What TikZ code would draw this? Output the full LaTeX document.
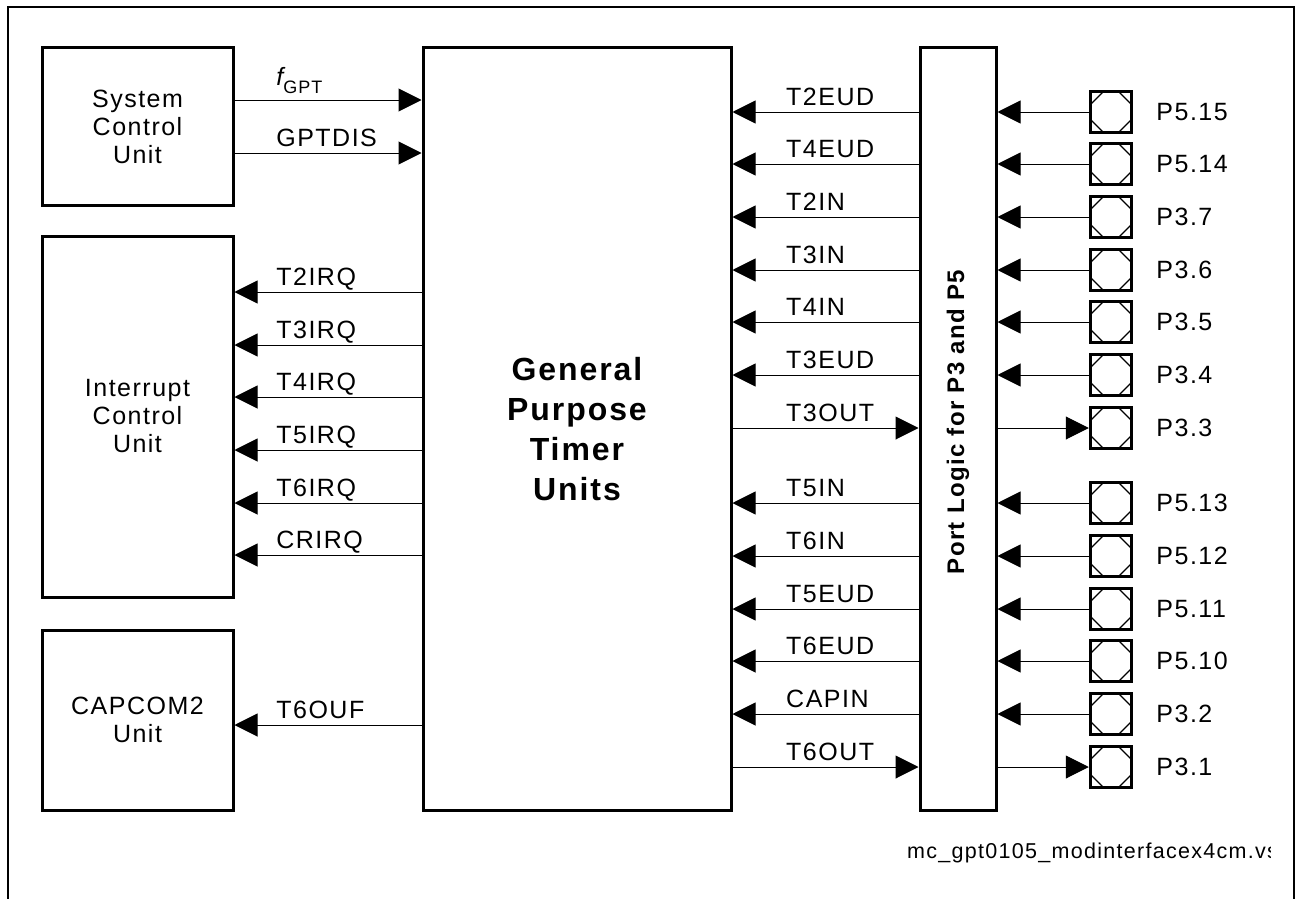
\documentclass[tikz,border=0pt]{standalone}
\usepackage{fontspec}
\setmainfont{Liberation Sans}[LetterSpace=6]
\usetikzlibrary{arrows.meta}
\tikzset{
  unitbox/.style={draw, line width=3pt, inner sep=0pt, align=center,
    font=\fontsize{25}{28}\selectfont},
  sig/.style={line width=1pt, -{Triangle[length=23pt,width=23pt]}},
  lbl/.style={anchor=base west, inner sep=0pt, yshift=7pt,
    font=\fontsize{25}{28}\selectfont},
  pinbox/.style={draw, line width=3.5pt, minimum size=41pt, inner sep=0pt},
  pincut/.pic={
    \draw[line width=1.3pt] (-8,-20) -- (-20,-8) (8,-20) -- (20,-8)
      (-8,20) -- (-20,8) (8,20) -- (20,8);
  },
  pinlbl/.style={anchor=west, inner sep=0pt, xshift=23pt,
    font=\fontsize{25}{28}\selectfont}
}

\begin{document}
\begin{tikzpicture}[x=1pt, y=-1pt]
  \useasboundingbox (0,0) rectangle (1299,899);
  \draw[line width=2pt] (8,899) -- (8,7) -- (1294,7) -- (1294,899);

  \node[unitbox, minimum width=191pt, minimum height=157pt] (scu) at (137.5,126.5) {System\\Control\\Unit};
  \node[unitbox, minimum width=191pt, minimum height=361pt] (icu) at (137.5,416.5) {Interrupt\\Control\\Unit};
  \node[unitbox, minimum width=191pt, minimum height=180pt] (capcom) at (137.5,720) {CAPCOM2\\Unit};
  \node[unitbox, minimum width=308pt, minimum height=762pt,
    font=\fontsize{32}{40}\selectfont\bfseries] (gpt) at (577,429) {General\\Purpose\\Timer\\Units};
  \node[unitbox, minimum width=76pt, minimum height=762pt] (port) at (958,429) {};
  \node[rotate=90, inner sep=0pt, font=\fontsize{24}{28}\selectfont\bfseries] (portlbl) at (958,422) {Port Logic for P3 and P5};

  \coordinate (fclk) at (0,100);
  \coordinate (gdis) at (0,153);
  \draw[sig] (scu.east |- fclk) -- node[lbl, pos=0.221]
    {\raisebox{8pt}{\itshape f}{\fontsize{18}{20}\selectfont GPT}} (gpt.west |- fclk);
  \draw[sig] (scu.east |- gdis) -- node[lbl, pos=0.221] {GPTDIS} (gpt.west |- gdis);

  \foreach \y/\lab in {292/T2IRQ, 345/T3IRQ, 397/T4IRQ, 450/T5IRQ, 503/T6IRQ, 555/CRIRQ}
    \draw[sig] (gpt.west |- 0,\y) -- node[lbl, pos=0.779] {\lab} (icu.east |- 0,\y);
  \draw[sig] (gpt.west |- 0,725) -- node[lbl, pos=0.779] {T6OUF} (capcom.east |- 0,725);

  \foreach \n/\y/\lab/\pn in {1/112/T2EUD/P5.15, 2/164/T4EUD/P5.14, 3/217/T2IN/P3.7,
      4/270/T3IN/P3.6, 5/322/T4IN/P3.5, 6/375/T3EUD/P3.4, 8/503/T5IN/P5.13,
      9/556/T6IN/P5.12, 10/609/T5EUD/P5.11, 11/661/T6EUD/P5.10, 12/714/CAPIN/P3.2} {
    \node[pinbox] (pin\n) at (1111,\y) {};
    \pic at (pin\n.center) {pincut};
    \node[pinlbl] at (pin\n.east) {\pn};
    \draw[sig] (pin\n.west) -- (port.east |- pin\n);
    \draw[sig] (port.west |- pin\n) -- node[lbl, pos=0.714] {\lab} (gpt.east |- pin\n);
  }
  \foreach \n/\y/\lab/\pn in {7/428/T3OUT/P3.3, 13/767/T6OUT/P3.1} {
    \node[pinbox] (pin\n) at (1111,\y) {};
    \pic at (pin\n.center) {pincut};
    \node[pinlbl] at (pin\n.east) {\pn};
    \draw[sig] (port.east |- pin\n) -- (pin\n.west);
    \draw[sig] (gpt.east |- pin\n) -- node[lbl, pos=0.286] {\lab} (port.west |- pin\n);
  }

  \begin{scope}
    \clip (0,0) rectangle (1270,899);
    \node[anchor=base west, inner sep=0pt, font=\fontsize{21.5}{24}\selectfont] (fname) at (907,858)
      {mc\_gpt0105\_modinterfacex4cm.vsd};
  \end{scope}
\end{tikzpicture}
\end{document}
